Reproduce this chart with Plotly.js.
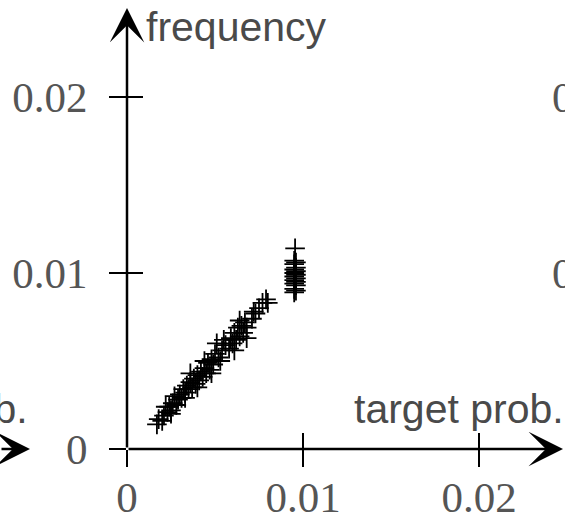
<!DOCTYPE html>
<html>
<head>
<meta charset="utf-8">
<script src="https://cdn.plot.ly/plotly-3.0.1.min.js"></script>
<style>html,body{margin:0;padding:0;background:#fff;}#chart{width:565px;height:520px;}</style>
</head>
<body>
<div id="chart"></div>
<script>
// Data
var targetProb = [
  0.0017, 0.0018, 0.0020, 0.0021, 0.0023, 0.0024, 0.0025, 0.0026, 0.0028, 0.0029,
  0.0030, 0.0031, 0.0032, 0.0033, 0.0034, 0.0035, 0.0036, 0.0037, 0.0038, 0.0039,
  0.0040, 0.0041, 0.0042, 0.0043, 0.0044, 0.0045, 0.0046, 0.0047, 0.0048, 0.0049,
  0.0050, 0.0051, 0.0052, 0.0054, 0.0056, 0.0058, 0.0059, 0.0060, 0.0061, 0.0062,
  0.0063, 0.0064, 0.0065, 0.0066, 0.0067, 0.0068, 0.0071, 0.0073, 0.0075, 0.0077,
  0.0079, 0.0080,
  0.0036, 0.0040, 0.0044, 0.0048, 0.0053, 0.0055, 0.0061, 0.0064, 0.0068, 0.0072,
  0.0027, 0.0033, 0.0022, 0.0025,
  0.00955, 0.0095, 0.0096, 0.0095, 0.0096, 0.0095, 0.0096, 0.0095, 0.0096, 0.0095,
  0.0096, 0.0095, 0.0096, 0.0095, 0.0096, 0.0095, 0.0096, 0.0095
];
var frequency = [
  0.0014, 0.0017, 0.0016, 0.0019, 0.0021, 0.0024, 0.0022, 0.0026, 0.0025, 0.0028,
  0.0031, 0.0029, 0.0034, 0.0032, 0.0036, 0.0034, 0.0038, 0.0035, 0.0040, 0.0037,
  0.0042, 0.0039, 0.0044, 0.0041, 0.0046, 0.0043, 0.0049, 0.0045, 0.0051, 0.0048,
  0.0054, 0.0060, 0.0052, 0.0056, 0.0059, 0.0057, 0.0063, 0.0060, 0.0066, 0.0062,
  0.0069, 0.0064, 0.0070, 0.0066, 0.0072, 0.0069, 0.0074, 0.0077, 0.0080, 0.0083,
  0.0085, 0.0083,
  0.0043, 0.0035, 0.0050, 0.0043, 0.0050, 0.0062, 0.0056, 0.0073, 0.0063, 0.0078,
  0.0030, 0.0029, 0.0024, 0.0020,
  0.0114, 0.0107, 0.0106, 0.0105, 0.0103, 0.0102, 0.0101, 0.0100, 0.0099, 0.0098,
  0.0097, 0.0096, 0.0095, 0.0094, 0.0093, 0.0091, 0.0090, 0.0089
];
var tickVals = [0, 0.01, 0.02];
var tickText = ['0', '0.01', '0.02'];
var xLabel = 'target prob.';
var yLabel = 'frequency';

var serif = {family: 'Liberation Serif, serif', size: 43, color: '#555555'};
var sans = {family: 'Liberation Sans, Arial, sans-serif', size: 41, color: '#4a4a4a'};

var xMax = 0.024773, yMax = 0.025057;

var trace = {
  x: targetProb, y: frequency, type: 'scatter', mode: 'markers',
  marker: {symbol: 'cross-thin', size: 14, color: 'black', line: {width: 1.8, color: 'black'}},
  cliponaxis: false, hoverinfo: 'none'
};
var dummy2 = {x: [0], y: [0], xaxis: 'x2', yaxis: 'y2', mode: 'markers', marker: {opacity: 0}, hoverinfo: 'none', showlegend: false};

var baseAxis = {
  showgrid: false, zeroline: false, showline: false,
  tickmode: 'array', tickvals: tickVals, ticktext: tickText,
  ticklen: 17, tickwidth: 1.3, tickcolor: 'black', tickfont: serif
};

var layout = {
  width: 565, height: 520,
  margin: {l: 127, r: 2, t: 8, b: 71},
  paper_bgcolor: 'white', plot_bgcolor: 'white',
  showlegend: false,
  xaxis: Object.assign({}, baseAxis, {range: [0, xMax], ticks: 'outside', ticklabelstandoff: -7}),
  yaxis: Object.assign({}, baseAxis, {range: [0, yMax], ticks: 'outside', ticklabelstandoff: 13}),
  xaxis2: Object.assign({}, baseAxis, {range: [0, xMax], overlaying: 'x', anchor: 'y', ticks: 'inside', showticklabels: false, ticklen: 16}),
  yaxis2: Object.assign({}, baseAxis, {range: [0, yMax], overlaying: 'y', anchor: 'x', ticks: 'inside', showticklabels: false, ticklen: 16}),
  annotations: [
    {xref: 'x', yref: 'y', x: xMax, y: 0, axref: 'x', ayref: 'y', ax: 0, ay: 0, text: '', showarrow: true,
     arrowhead: 3, arrowsize: 2.3, arrowwidth: 2.5, arrowcolor: 'black'},
    {xref: 'x', yref: 'y', x: 0, y: yMax, axref: 'x', ayref: 'y', ax: 0, ay: 0, text: '', showarrow: true,
     arrowhead: 3, arrowsize: 2.3, arrowwidth: 2.5, arrowcolor: 'black'},
    {xref: 'paper', yref: 'y', x: -0.2225, y: 0, ax: -90, ay: 0, text: '', showarrow: true,
     arrowhead: 3, arrowsize: 2.3, arrowwidth: 2.5, arrowcolor: 'black'},
    {xref: 'paper', yref: 'paper', x: 0.039, y: 0.957, xanchor: 'left', yanchor: 'middle', text: yLabel, showarrow: false, font: sans},
    {xref: 'paper', yref: 'paper', x: 1.007, y: 0.0907, xanchor: 'right', yanchor: 'middle', text: xLabel, showarrow: false, font: sans},
    {xref: 'paper', yref: 'paper', x: -0.2225, y: 0.0907, xanchor: 'right', yanchor: 'middle', text: xLabel, showarrow: false, font: sans},
    {xref: 'paper', yref: 'paper', x: 0.970, y: 0.798, xanchor: 'left', yanchor: 'middle', text: '0.02', showarrow: false, font: serif},
    {xref: 'paper', yref: 'paper', x: 0.970, y: 0.399, xanchor: 'left', yanchor: 'middle', text: '0.01', showarrow: false, font: serif}
  ]
};

Plotly.newPlot('chart', [trace, dummy2], layout, {staticPlot: true, displayModeBar: false});
</script>
</body>
</html>
